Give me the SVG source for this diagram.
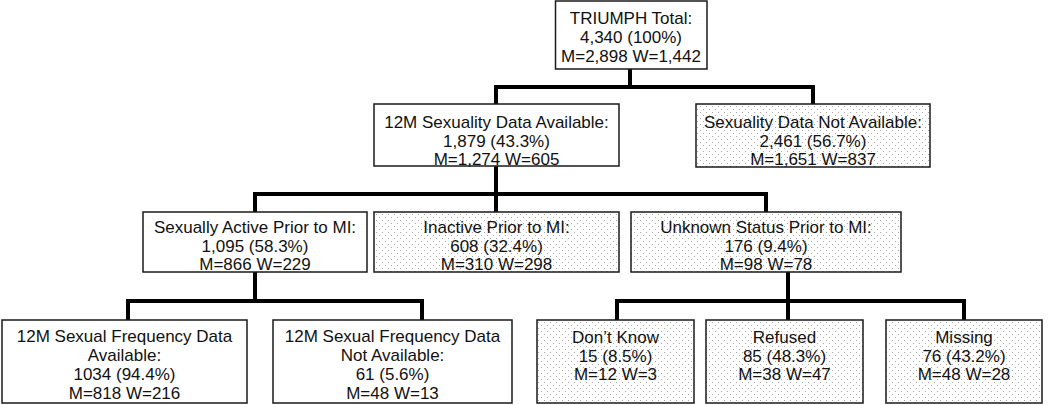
<svg xmlns="http://www.w3.org/2000/svg" width="1050" height="405" viewBox="0 0 1050 405">
<defs>
<pattern id="dots" width="6" height="6" patternUnits="userSpaceOnUse">
<rect width="6" height="6" fill="#ffffff"/>
<rect x="1" y="1" width="1" height="1" fill="#a8a8a8"/>
<rect x="4" y="4" width="1" height="1" fill="#a8a8a8"/>
</pattern>
</defs>
<style>
.box{fill:#ffffff;stroke:#1a1a1a;stroke-width:1.5}
.dot{fill:url(#dots);stroke:#1a1a1a;stroke-width:1.5}
.t{font-family:"Liberation Sans",Arial,sans-serif;font-size:17px;fill:#111;text-anchor:middle}
.c{fill:none;stroke:#000;stroke-width:4;stroke-linejoin:miter;stroke-linecap:square}
</style>
<rect width="1050" height="405" fill="#ffffff"/>
<g id="connectors">
<path class="c" d="M630 70 V87 M496 87 H813 M496 87 V103 M813 87 V103"/>
<path class="c" d="M496 167 V211 M255 194 H766 M255 194 V211 M766 194 V211"/>
<path class="c" d="M255 273 V301 M128 301 H422 M128 301 V319 M422 301 V319"/>
<path class="c" d="M788 273 V301 M617 301 H964 M617 301 V319 M788 301 V319 M964 301 V319"/>
</g>
<g id="n-total">
<rect class="box" x="555.5" y="1" width="151.5" height="68"/>
<text class="t" x="631" y="24">TRIUMPH Total:</text>
<text class="t" x="631" y="43">4,340 (100%)</text>
<text class="t" x="631" y="62">M=2,898 W=1,442</text>
</g>
<g id="n-avail">
<rect class="box" x="374" y="104" width="245" height="62"/>
<text class="t" x="496.5" y="128">12M Sexuality Data Available:</text>
<text class="t" x="496.5" y="147">1,879 (43.3%)</text>
<text class="t" x="496.5" y="165">M=1,274 W=605</text>
</g>
<g id="n-notavail">
<rect class="dot" x="696" y="104" width="234" height="63"/>
<text class="t" x="813" y="128">Sexuality Data Not Available:</text>
<text class="t" x="813" y="147">2,461 (56.7%)</text>
<text class="t" x="813" y="165">M=1,651 W=837</text>
</g>
<g id="n-active">
<rect class="box" x="143" y="212" width="224" height="60"/>
<text class="t" x="255" y="233">Sexually Active Prior to MI:</text>
<text class="t" x="255" y="252">1,095 (58.3%)</text>
<text class="t" x="255" y="270">M=866 W=229</text>
</g>
<g id="n-inactive">
<rect class="dot" x="374" y="212" width="245" height="60"/>
<text class="t" x="496.5" y="233">Inactive Prior to MI:</text>
<text class="t" x="496.5" y="252">608 (32.4%)</text>
<text class="t" x="496.5" y="270">M=310 W=298</text>
</g>
<g id="n-unknown">
<rect class="dot" x="631" y="212" width="270" height="60"/>
<text class="t" x="766" y="233">Unknown Status Prior to MI:</text>
<text class="t" x="766" y="252">176 (9.4%)</text>
<text class="t" x="766" y="270">M=98 W=78</text>
</g>
<g id="n-freq-avail">
<rect class="box" x="2" y="320" width="245" height="83"/>
<text class="t" x="124.5" y="342">12M Sexual Frequency Data</text>
<text class="t" x="124.5" y="361">Available:</text>
<text class="t" x="124.5" y="380">1034 (94.4%)</text>
<text class="t" x="124.5" y="399">M=818 W=216</text>
</g>
<g id="n-freq-notavail">
<rect class="box" x="273" y="320" width="239" height="83"/>
<text class="t" x="392.5" y="342">12M Sexual Frequency Data</text>
<text class="t" x="392.5" y="361">Not Available:</text>
<text class="t" x="392.5" y="380">61 (5.6%)</text>
<text class="t" x="392.5" y="399">M=48 W=13</text>
</g>
<g id="n-dontknow">
<rect class="dot" x="537" y="320" width="157" height="83"/>
<text class="t" x="615.5" y="343">Don’t Know</text>
<text class="t" x="615.5" y="362">15 (8.5%)</text>
<text class="t" x="615.5" y="380">M=12 W=3</text>
</g>
<g id="n-refused">
<rect class="dot" x="706" y="320" width="157" height="83"/>
<text class="t" x="784.5" y="343">Refused</text>
<text class="t" x="784.5" y="362">85 (48.3%)</text>
<text class="t" x="784.5" y="380">M=38 W=47</text>
</g>
<g id="n-missing">
<rect class="dot" x="886" y="320" width="156" height="83"/>
<text class="t" x="964" y="343">Missing</text>
<text class="t" x="964" y="362">76 (43.2%)</text>
<text class="t" x="964" y="380">M=48 W=28</text>
</g>
</svg>
